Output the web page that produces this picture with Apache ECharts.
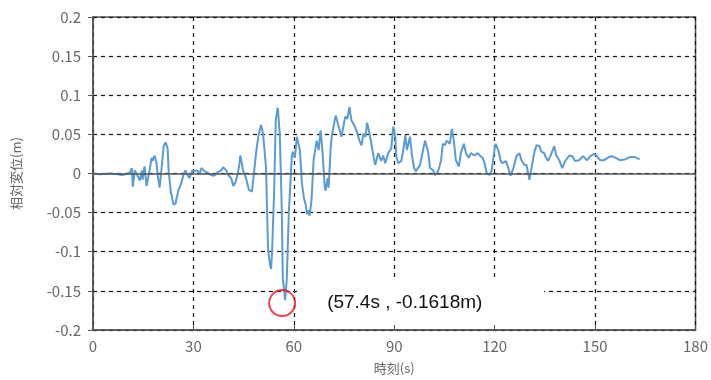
<!DOCTYPE html>
<html>
<head>
<meta charset="utf-8">
<script src="https://cdn.jsdelivr.net/npm/echarts@6/dist/echarts.min.js"></script>
<style>html,body{margin:0;padding:0;background:#fff;}#c{width:711px;height:380px;}</style>
</head>
<body>
<div id="c"></div>
<script>
var times = [0,2.1,5.0,7.4,8.6,9.8,11.0,11.6,11.9,12.5,13.1,14.0,14.6,14.8,15.4,16.0,16.3,16.9,17.5,17.8,18.4,19.0,19.3,19.9,20.5,21.1,21.7,22.3,22.6,23.2,23.8,24.1,24.7,24.9,25.5,26.4,27.0,27.6,28.2,28.8,29.7,30.3,31.2,31.8,32.4,33.3,34.2,35.3,36.2,37.1,38.3,38.9,39.8,40.4,41.3,41.9,42.5,43.1,43.7,44.0,44.3,44.8,45.7,46.6,47.5,48.1,48.7,49.3,49.9,50.2,50.8,51.7,52.3,52.9,53.2,53.5,54.1,54.6,55.2,55.8,56.4,56.7,57.4,57.9,58.5,59.4,59.7,60.3,60.9,61.8,62.4,63.0,63.6,63.9,64.4,64.7,65.3,65.9,66.8,67.4,68.0,68.6,69.2,69.5,70.1,70.4,71.0,71.3,71.9,72.5,73.4,74.2,74.8,75.4,76.0,76.6,77.2,78.1,78.7,79.6,80.2,80.8,81.4,81.9,82.8,83.8,84.3,85.2,86.1,86.7,87.3,88.2,89.1,89.7,90.3,90.6,91.2,92.1,92.7,93.3,93.8,94.7,95.3,95.9,96.5,97.7,98.6,99.2,100.1,100.7,101.6,102.2,103.1,104.0,104.5,105.1,105.7,106.6,107.2,107.8,108.4,109.3,109.9,110.8,111.4,112.3,112.9,114.0,114.9,115.8,116.4,117.0,117.6,118.5,119.1,120.0,120.3,121.2,121.8,122.4,123.3,124.1,124.7,125.6,126.5,127.4,128.0,128.9,129.5,130.4,130.7,131.0,131.9,132.5,133.4,133.9,134.8,135.1,136.0,136.6,137.8,138.4,139.3,140.2,141.1,142.3,143.2,144.0,145.2,146.4,147.6,148.5,149.7,150.6,151.5,152.7,154.1,155.0,156.2,157.4,158.9,160.4,161.9,163.3];
var displacement = [0,-0.001,0,-0.001,-0.002,-0.001,0.001,0.007,-0.017,0.004,-0.001,-0.009,0.004,-0.008,0.009,-0.016,-0.018,0.004,0.020,0.016,0.023,0.013,-0.002,-0.018,0.007,0.035,0.040,0.032,0.003,-0.022,-0.035,-0.040,-0.038,-0.033,-0.022,-0.012,-0.002,0.004,-0.002,-0.006,0.004,0.003,0.004,-0.001,0.007,0.003,0.001,-0.002,-0.003,0.001,0.004,0.008,0.004,-0.002,-0.006,-0.016,-0.012,-0.003,0.011,0.023,0.017,0.004,-0.006,-0.021,-0.023,0.001,0.026,0.045,0.057,0.062,0.051,0.007,-0.097,-0.117,-0.122,-0.100,-0.025,0.068,0.084,0.051,-0.046,-0.134,-0.1618,-0.134,-0.050,0.022,0.028,0.020,0.047,0.030,-0.012,-0.031,-0.041,-0.052,-0.047,-0.054,-0.033,0.017,0.042,0.030,0.055,0.026,-0.016,-0.022,-0.006,-0.018,0.032,0.047,0.061,0.074,0.060,0.047,0.060,0.073,0.070,0.085,0.068,0.061,0.055,0.042,0.036,0.051,0.047,0.065,0.047,0.022,0.011,0.026,0.016,0.023,0.013,0.026,0.032,0.060,0.047,0.022,0.013,0.016,0.030,0.049,0.030,0.047,0.023,0.007,0.003,0.011,0.030,0.042,0.028,0.007,0.004,-0.002,0.003,0.017,0.038,0.036,0.042,0.038,0.057,0.042,0.017,0.009,0.026,0.038,0.026,0.020,0.026,0.023,0.026,0.022,0.020,0.013,0.001,-0.002,0.004,0.032,0.038,0.028,0.016,0.013,0.016,0.007,-0.003,0.007,0.022,0.026,0.017,0.011,0.011,-0.008,-0.009,0.007,0.028,0.036,0.035,0.028,0.026,0.022,0.016,0.022,0.035,0.023,0.017,0.007,0.016,0.023,0.022,0.016,0.017,0.022,0.017,0.022,0.025,0.022,0.017,0.017,0.021,0.022,0.020,0.017,0.018,0.021,0.021,0.018];
var peakTime = 57.4;
var peakValue = -0.1618;
var peakText = '(57.4s , -0.1618m)';
var xTicks = [0,30,60,90,120,150,180];
var yTicks = [-0.2,-0.15,-0.1,-0.05,0,0.05,0.1,0.15,0.2];

var seriesData = times.map(function(t,i){return [t, displacement[i]];});
var chart = echarts.init(document.getElementById('c'));
var labelFont = '"Noto Sans CJK JP", "Noto Sans", sans-serif';
chart.setOption({
  animation:false,
  backgroundColor:'#fff',
  grid:{left:93,right:12,top:17,bottom:46,show:true,borderColor:'#555',borderWidth:1.5,backgroundColor:'transparent'},
  xAxis:{
    type:'value',min:xTicks[0],max:xTicks[xTicks.length-1],interval:30,
    name:'時刻(s)',nameLocation:'middle',nameGap:32,
    nameTextStyle:{color:'#666',fontSize:13,fontFamily:labelFont},
    axisLine:{show:true,onZero:false,lineStyle:{color:'#555',width:1.5}},
    axisTick:{show:true,inside:true,length:5,lineStyle:{color:'#555'}},
    axisLabel:{color:'#666',fontSize:15,margin:9,fontFamily:labelFont},
    splitLine:{show:true,lineStyle:{color:'#111',type:[4,4],width:1.2}}
  },
  yAxis:{
    type:'value',min:yTicks[0],max:yTicks[yTicks.length-1],interval:0.05,
    name:'相対変位(m)',nameLocation:'middle',nameGap:70,nameRotate:90,
    nameTextStyle:{color:'#666',fontSize:13,fontFamily:labelFont},
    axisLine:{show:true,lineStyle:{color:'#555',width:1.5}},
    axisTick:{show:true,length:5,lineStyle:{color:'#555'}},
    axisLabel:{color:'#666',fontSize:15,margin:12,fontFamily:labelFont,
      formatter:function(v){return String(Math.round(v*100)/100);}},
    splitLine:{show:true,lineStyle:{color:'#111',type:[4,4],width:1.2}}
  },
  series:[
    {
      type:'line',data:seriesData,showSymbol:false,symbol:'none',
      lineStyle:{color:'#5b9bd5',width:2},z:3,
      markLine:{silent:true,symbol:'none',label:{show:false},
        lineStyle:{color:'#555',type:'solid',width:1.5},
        data:[{yAxis:0}]}
    },
    {
      type:'scatter',data:[[peakTime,peakValue]],symbol:'circle',symbolSize:26,symbolOffset:[-3,3],
      itemStyle:{color:'rgba(0,0,0,0)',borderColor:'#e8141b',borderWidth:2},z:4
    }
  ]
});
var p = chart.convertToPixel({gridIndex:0},[peakTime,peakValue]);
var cx = p[0]-3, cy = p[1]+3;
chart.setOption({
  graphic:[
    {type:'rect',z:50,silent:true,shape:{x:cx+17,y:cy-24,width:245,height:46},style:{fill:'#fff'}},
    {type:'text',z:51,silent:true,x:cx+45,y:cy,style:{text:peakText,fill:'#111',fontSize:19,
      fontFamily:'"Liberation Sans", Arial, sans-serif',verticalAlign:'middle',align:'left'}}
  ]
});
</script>
</body>
</html>
